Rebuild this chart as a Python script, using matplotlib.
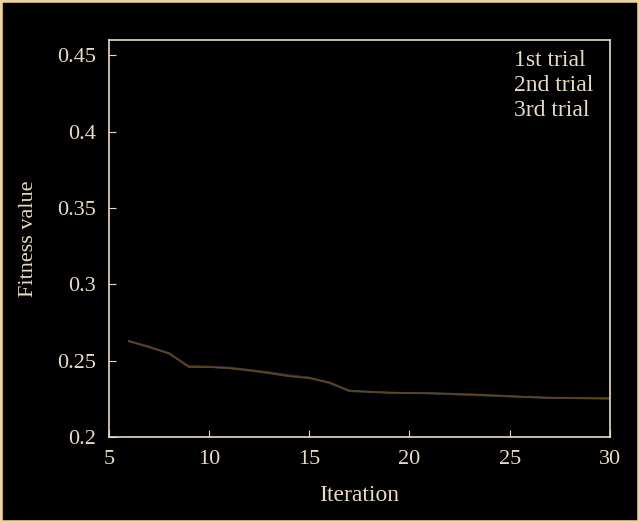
import matplotlib
matplotlib.use("Agg")
import matplotlib.pyplot as plt
from matplotlib.patches import Rectangle

iterations = list(range(6, 31))
trial1 = [0.263, 0.259, 0.255, 0.246, 0.246, 0.245, 0.2435, 0.242, 0.240, 0.239, 0.2355, 0.230,
          0.2295, 0.229, 0.2288, 0.2285, 0.228, 0.2275, 0.227, 0.2265, 0.226, 0.2255, 0.2255, 0.2255, 0.2255]
trial2 = [0.2625, 0.2595, 0.2545, 0.2465, 0.2462, 0.2455, 0.244, 0.2425, 0.2405, 0.2388, 0.2352, 0.2302,
          0.2298, 0.2292, 0.2289, 0.2286, 0.2282, 0.2278, 0.2272, 0.2266, 0.2262, 0.2256, 0.2254, 0.2252, 0.2250]
trial3 = [0.2628, 0.2588, 0.2548, 0.2458, 0.2458, 0.2452, 0.2438, 0.2418, 0.2398, 0.2385, 0.2358, 0.2304,
          0.2296, 0.229, 0.2288, 0.2288, 0.2284, 0.228, 0.2274, 0.2268, 0.2262, 0.2258, 0.2256, 0.2254, 0.2252]
labels = ["1st trial", "2nd trial", "3rd trial"]
xticks = [5, 10, 15, 20, 25, 30]
yticks = [0.2, 0.25, 0.3, 0.35, 0.4, 0.45]
ytick_labels = ["0.2", "0.25", "0.3", "0.35", "0.4", "0.45"]

fg = "#e8dcc4"
plt.rcParams['font.family'] = ['Liberation Serif', 'DejaVu Serif']

fig = plt.figure(figsize=(6.4, 5.23), dpi=100, facecolor="black")
fig.patches.append(Rectangle((0, 0), 1, 1, transform=fig.transFigure, fill=False,
                             edgecolor="#f0d2a0", linewidth=4, zorder=10))
ax = fig.add_axes([0.170, 0.1644, 0.783, 0.7591], facecolor="black")

colors = ["#175656", "#4a1c52", "#5a4a10"]
for data, lab, c in zip([trial1, trial2, trial3], labels, colors):
    ax.plot(iterations, data, color=c, lw=1.2, label=lab)

ax.set_xlim(5, 30)
ax.set_ylim(0.2, 0.46)
ax.set_xticks(xticks)
ax.set_yticks(yticks)
ax.set_yticklabels(ytick_labels)
ax.tick_params(direction="in", colors=fg, labelsize=16, length=5, pad=9)
for s in ax.spines.values():
    s.set_color(fg)
    s.set_linewidth(1.2)
ax.set_xlabel("Iteration", color=fg, fontsize=17, labelpad=12)
ax.set_ylabel("Fitness value", color=fg, fontsize=16, labelpad=14)

leg = ax.legend(loc="upper right", frameon=False, fontsize=17, handlelength=0,
                handletextpad=0, labelspacing=0.15, borderaxespad=0.0,
                bbox_to_anchor=(0.985, 1.0))
for t in leg.get_texts():
    t.set_color(fg)

fig.savefig("out.png", dpi=100, facecolor="black")
